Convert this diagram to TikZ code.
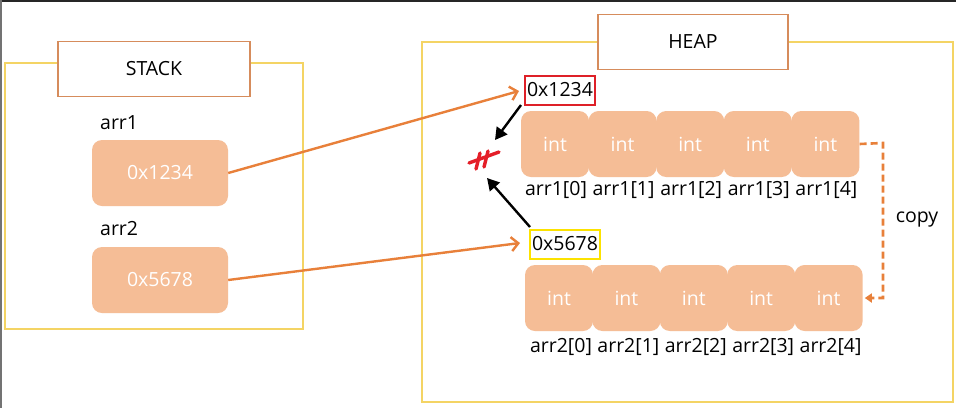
\documentclass[tikz,border=0pt]{standalone}
\usepackage{fontspec}
\setmainfont{Open Sans}
\usetikzlibrary{arrows.meta}
\definecolor{cellfill}{RGB}{245,189,150}
\definecolor{orangeln}{RGB}{232,128,58}
\definecolor{frameyel}{RGB}{244,212,100}
\definecolor{labbord}{RGB}{214,140,92}
\definecolor{redbox}{RGB}{222,32,40}
\definecolor{yelbox}{RGB}{252,226,0}
\definecolor{strike}{RGB}{228,30,40}
\tikzset{
  txt/.style={font=\fontsize{19.5}{22}\selectfont, inner sep=0pt},
  areabox/.style={draw=frameyel, line width=1.3pt},
  titlebox/.style={draw=labbord, fill=white, line width=1.2pt, minimum width=#1, minimum height=55pt, txt},
  valbox/.style={fill=cellfill, rounded corners=10pt, minimum width=136pt, minimum height=66pt, txt, text=white},
  cellbox/.style={fill=cellfill, rounded corners=10pt, minimum width=68pt, minimum height=66pt, txt, text=white},
  addrbox/.style={draw=#1, line width=2pt, inner sep=1pt, minimum width=70pt, minimum height=29pt, txt},
  ptr/.style={draw=orangeln, line width=2.4pt, -{Straight Barb[length=7pt,width=14pt,line width=2.4pt]}},
  blk/.style={draw=black, line width=2.4pt, -{Triangle[length=12pt,width=13pt]}},
  cp/.style={draw=orangeln, line width=2.6pt, dash pattern=on 7pt off 4pt, -{Triangle[length=7pt,width=9pt]}}
}
\begin{document}
\begin{tikzpicture}[x=1pt,y=-1pt]
\useasboundingbox (0,0) rectangle (956,408);
\fill[white] (0,0) rectangle (956,408);
% screenshot frame edges
\draw[black!85, line width=2pt] (0,1) -- (956,1);
\draw[black!55, line width=2pt] (1,0) -- (1,408);
% STACK area
\draw[areabox] (5,63) rectangle (303,329);
\node[titlebox=192pt] (stk) at (154,69) {STACK};
\node[txt, anchor=west] (l1) at (100,123) {arr1};
\node[txt, anchor=west] (l2) at (100,229) {arr2};
\node[valbox] (s1) at (160,173) {0x1234};
\node[valbox] (s2) at (160,280) {0x5678};
% HEAP area
\draw[areabox] (422,42) rectangle (953,402);
\node[titlebox=190pt] (hp) at (693,42) {HEAP};
\node[addrbox=redbox] (h1) at (560,90) {0x1234};
\node[addrbox=yelbox] (h2) at (565,244) {0x5678};
\foreach \i in {0,...,4}{
  \node[cellbox] (a\i) at (555+67.6*\i,144) {int};
  \node[txt] (la\i) at (556+67.6*\i,190) {arr1[\i]};
  \node[cellbox] (b\i) at (559+67.4*\i,298) {int};
  \node[txt] (lb\i) at (561+67.4*\i,347) {arr2[\i]};
}
% pointers
\coordinate (t1) at (519,91);
\coordinate (t2) at (520,243);
\draw[ptr] (s1.east) -- (t1);
\draw[ptr] (s2.east) -- (t2);
% broken link
\coordinate (k1) at (521,105);
\coordinate (e1) at (495,140);
\coordinate (k2) at (530,227);
\coordinate (e2) at (487,178);
\draw[blk] (k1) -- (e1);
\draw[blk] (k2) -- (e2);
\draw[strike, line width=3.4pt, line cap=round] (469,163) -- (499,152);
\draw[strike, line width=3.4pt, line cap=round] (476,169) -- (480,153);
\draw[strike, line width=3.4pt, line cap=round] (484,167) -- (488,151);
% copy
\coordinate (c1) at (883,143);
\coordinate (c2) at (883,298);
\draw[cp] (a4.east) -- (c1) -- (c2) -- ([xshift=2pt]b4.east);
\node[txt] (cpy) at (917,220) {copy};
\end{tikzpicture}
\end{document}
